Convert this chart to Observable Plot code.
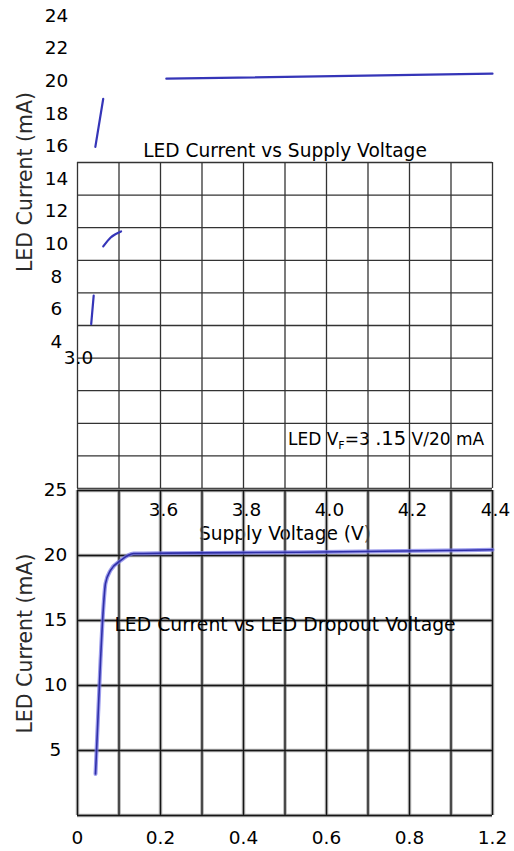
<!DOCTYPE html>
<html><head><meta charset="utf-8">
<script src="https://cdn.jsdelivr.net/npm/d3@7"></script>
<script src="https://cdn.jsdelivr.net/npm/@observablehq/plot@0.6"></script>
<style>
html,body{margin:0;padding:0;background:#fff;}
#wrap{position:relative;width:514px;height:851px;overflow:hidden;background:#fff;}
#wrap svg{position:absolute;left:0;top:0;}
</style></head><body><div id="wrap"></div>
<script>
// ---------- Upper chart: LED Current vs Supply Voltage ----------
const supplyTicks = [3.6, 3.8, 4.0, 4.2, 4.4];
const supplyGrid = [3.4, 3.5, 3.6, 3.7, 3.8, 3.9, 4.0, 4.1, 4.2, 4.3, 4.4];
const currentTicksTop = [24, 22, 20, 18, 16, 14, 12, 10, 8, 6, 4];
const currentGridTop = [15, 13, 11, 9, 7, 5, 3, 1, -1, -3, -5];
const strayTickTop = [3.0];
// visible pieces of the supply-voltage curve
const supplyV   = [3.443, 3.462, 3.614, 4.40, 3.462, 3.480, 3.505, 3.433, 3.439];
const supplyI   = [15.96, 18.91, 20.14, 20.45, 9.85, 10.40, 10.77, 5.09, 6.83];
const supplySeg = [0, 0, 1, 1, 2, 2, 2, 3, 3];
const noteText = "LED VF=3 .15 V/20 mA";
const notePos = {v: 3.9, i: -2};

// ---------- Lower chart: LED Current vs LED Dropout Voltage ----------
const dropoutTicks = [0, 0.2, 0.4, 0.6, 0.8, 1.0];
const dropoutTickLabels = ["0", "0.2", "0.4", "0.6", "0.8", "1.2"];
const dropoutGrid = [0, 0.1, 0.2, 0.3, 0.4, 0.5, 0.6, 0.7, 0.8, 0.9, 1.0];
const currentTicksBottom = [25, 20, 15, 10, 5];
const currentGridBottom = [0, 5, 10, 15, 20, 25];
const dropoutV = [0.0434, 0.0554, 0.0619, 0.0675, 0.0795, 0.1036, 0.135, 0.217, 0.537, 1.0];
const dropoutI = [3.2, 11.9, 15.77, 17.85, 18.85, 19.6, 20.15, 20.18, 20.25, 20.44];

const FONT = "DejaVu Sans";
const baseStyle = {fontFamily: FONT, fontSize: "18.5px", background: "transparent", color: "#000", overflow: "visible"};

const supplyRows = supplyV.map((v, k) => ({v, i: supplyI[k], seg: supplySeg[k]}));
const dropoutRows = dropoutV.map((v, k) => ({v, i: dropoutI[k]}));
const dropLabel = new Map(dropoutTicks.map((t, k) => [t, dropoutTickLabels[k]]));

const topChart = Plot.plot({
  width: 514, height: 851,
  marginLeft: 77, marginRight: 22, marginTop: 162, marginBottom: 363,
  x: {domain: [3.4, 4.4], axis: null},
  y: {domain: [-5, 15], axis: null},
  style: baseStyle,
  marks: [
    Plot.ruleX(supplyGrid, {x: d => d, stroke: "#333", strokeWidth: 1.3}),
    Plot.ruleY(currentGridTop, {y: d => d, stroke: "#333", strokeWidth: 1.3}),
    Plot.line(supplyRows, {x: "v", y: "i", z: "seg", stroke: "#3535b8", strokeWidth: 2.2, curve: "monotone-x"}),
    Plot.axisX(supplyTicks, {tickSize: 0, tickPadding: 14, dx: 3, fontSize: 18.5, label: null, tickFormat: d => d.toFixed(1)}),
    Plot.text(currentTicksTop, {y: d => d, text: d => String(d), frameAnchor: "left", dx: -21, textAnchor: "middle", fontSize: 18.5}),
    Plot.text(strayTickTop, {y: d => d, text: d => d.toFixed(1), frameAnchor: "left", dx: 1, textAnchor: "middle", fontSize: 18.5}),
    Plot.text([noteText], {x: notePos.v, y: notePos.i, text: d => d, textAnchor: "start", dx: 3, fontSize: 17}),
    Plot.text(["LED Current vs Supply Voltage"], {frameAnchor: "top", text: d => d, dy: -18.5, fontSize: 18.6}),
    Plot.text(["Supply Voltage (V)"], {frameAnchor: "bottom", text: d => d, dy: 51.5, fontSize: 18.6}),
    Plot.text(["LED Current (mA)"], {frameAnchor: "left", text: d => d, rotate: -90, textAnchor: "middle", dx: -52, dy: -143.5, fontSize: 20.5, fill: "#2a2a2a"})
  ]
});

const bottomChart = Plot.plot({
  width: 514, height: 851,
  marginLeft: 77, marginRight: 22, marginTop: 490, marginBottom: 36,
  x: {domain: [0, 1], axis: null},
  y: {domain: [0, 25], axis: null},
  style: baseStyle,
  marks: [
    Plot.ruleX(dropoutGrid, {x: d => d, stroke: "#9a9a9a", strokeWidth: 3.5, strokeOpacity: 0.8}),
    Plot.ruleY(currentGridBottom, {y: d => d, stroke: "#9a9a9a", strokeWidth: 3.5, strokeOpacity: 0.8}),
    Plot.ruleX(dropoutGrid, {x: d => d, stroke: "#151515", strokeWidth: 1.3}),
    Plot.ruleY(currentGridBottom, {y: d => d, stroke: "#151515", strokeWidth: 1.3}),
    Plot.line(dropoutRows, {x: "v", y: "i", stroke: "#7a7ae6", strokeWidth: 4, strokeOpacity: 0.75, curve: "monotone-x"}),
    Plot.line(dropoutRows, {x: "v", y: "i", stroke: "#2f2fa8", strokeWidth: 1.6, curve: "monotone-x"}),
    Plot.axisX(dropoutTicks, {tickSize: 0, tickPadding: 15, fontSize: 18.5, label: null, tickFormat: d => dropLabel.get(d)}),
    Plot.text(currentTicksBottom, {y: d => d, text: d => String(d), frameAnchor: "left", dx: -22, textAnchor: "middle", fontSize: 18.5}),
    Plot.text(["LED Current vs LED Dropout Voltage"], {frameAnchor: "top", text: d => d, dy: 127, fontSize: 18.8}),
    Plot.text(["LED Current (mA)"], {frameAnchor: "left", text: d => d, rotate: -90, textAnchor: "middle", dx: -52, dy: -9.5, fontSize: 20.5, fill: "#2a2a2a"})
  ]
});

const wrap = document.getElementById("wrap");
wrap.appendChild(topChart);
wrap.appendChild(bottomChart);

// Rich formatting for the annotation (subscript F, larger .15)
d3.select(topChart).selectAll("text").filter(function() { return this.textContent === noteText; })
  .each(function() {
    const t = d3.select(this);
    t.text(null);
    t.append("tspan").text("LED V");
    t.append("tspan").attr("font-size", 11).attr("dy", 4).text("F");
    t.append("tspan").attr("dy", -4).text("=3 ");
    t.append("tspan").attr("font-size", 19.5).text(".15");
    t.append("tspan").text(" V/20 mA");
  });
</script>
</body></html>
